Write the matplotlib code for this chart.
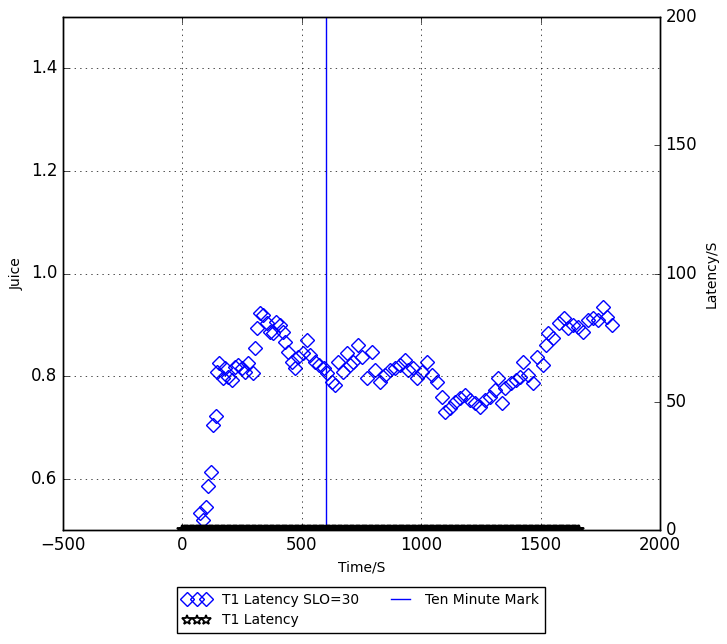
import matplotlib
matplotlib.use("Agg")
import matplotlib.pyplot as plt
import numpy as np

plt.style.use("classic")

# T1 juice samples (time in seconds, juice value)
juice_t = [75, 88, 100, 109, 121, 130, 142, 146, 155, 172, 180, 193, 209, 222, 234, 251, 264, 276, 297,
           306, 314, 327, 339, 356, 368, 381, 394, 410, 423,
           431, 444, 461, 473, 486, 507, 523, 536, 557, 570, 591, 607, 628, 641,
           653, 674, 691, 703, 716, 737, 754, 775, 796, 808, 829, 850, 871, 892, 913, 934, 946, 967,
           984, 1005, 1026, 1047, 1068, 1089,
           1101, 1122, 1143, 1164, 1185, 1206, 1227, 1248, 1269, 1290, 1310, 1323, 1340, 1353, 1374,
           1395, 1415, 1428, 1449, 1470, 1487, 1508, 1521, 1533, 1554, 1575, 1596, 1616, 1637, 1658,
           1679, 1700, 1721, 1742, 1763, 1780, 1800]
juice_v = [0.533, 0.52, 0.545, 0.586, 0.613, 0.705, 0.722, 0.808, 0.826, 0.796, 0.816, 0.798, 0.792,
           0.818, 0.822, 0.816, 0.808, 0.826, 0.806,
           0.855, 0.894, 0.923, 0.919, 0.904, 0.886, 0.884, 0.905, 0.9, 0.886,
           0.866, 0.847, 0.827, 0.816, 0.837, 0.845, 0.870, 0.841, 0.827, 0.822, 0.816, 0.806, 0.789, 0.783,
           0.827, 0.808, 0.845, 0.822, 0.827, 0.860, 0.837, 0.796, 0.847, 0.812, 0.789, 0.802, 0.812,
           0.816, 0.822, 0.832, 0.812, 0.816, 0.796, 0.808, 0.827, 0.802, 0.789, 0.759,
           0.730, 0.738, 0.750, 0.757, 0.763, 0.753, 0.748, 0.740, 0.753, 0.759, 0.773, 0.796, 0.748,
           0.777, 0.787, 0.792, 0.798, 0.827, 0.802, 0.787, 0.837, 0.822, 0.861, 0.884, 0.874, 0.904,
           0.913, 0.894, 0.900, 0.896, 0.886, 0.909, 0.913, 0.909, 0.935, 0.915, 0.900]

# T1 latency samples, all zero
lat_t = list(range(0, 1665, 5))
lat_v = [0] * len(lat_t)

ten_minute = 600

fig = plt.figure(figsize=(7.27, 6.44), dpi=100)
ax = fig.add_axes([63 / 727, 1 - 530 / 644, 597 / 727, 513 / 644])
ax2 = ax.twinx()

h1, = ax.plot(juice_t, juice_v, "D", mfc="none", mec="b", mew=1, ms=7,
              linestyle="none", label="T1 Latency SLO=30")
h2, = ax2.plot(lat_t, lat_v, "*", color="k", mfc="none", mew=1.3, ms=7,
               linestyle="none", label="T1 Latency")
h3 = ax.axvline(ten_minute, color="b", label="Ten Minute Mark")

ax.set_xlim(-500, 2000)
ax.set_ylim(0.5, 1.5)
ax2.set_ylim(0, 200)
ax.set_yticks([0.6, 0.8, 1.0, 1.2, 1.4])
ax2.set_yticks([0, 50, 100, 150, 200])
ax.grid(True)
ax.set_xlabel("Time/S", fontsize=10)
ax.set_ylabel("Juice", fontsize=10)
ax2.set_ylabel("Latency/S", fontsize=10)

fig.legend([h1, h2, h3], ["T1 Latency SLO=30", "T1 Latency", "Ten Minute Mark"],
           loc="center", bbox_to_anchor=(361 / 727, 1 - 610 / 644), ncol=2,
           numpoints=3, fontsize=10, frameon=True, borderaxespad=0)

fig.savefig("out.png", dpi=100)
